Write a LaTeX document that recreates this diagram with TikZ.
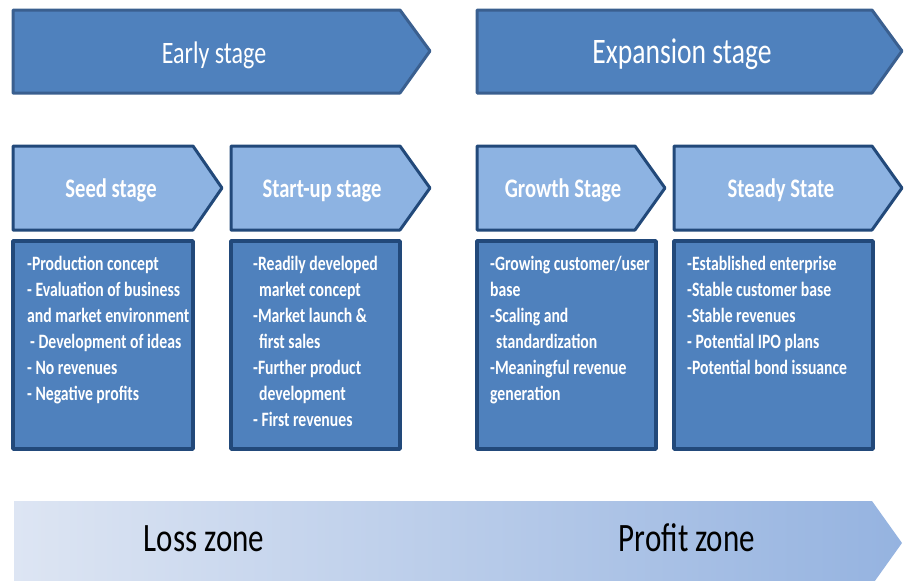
\documentclass[tikz,border=0pt]{standalone}
\usepackage{fontspec}
\usepackage{graphicx}
\setmainfont{Carlito}
\usetikzlibrary{positioning}

\definecolor{topfill}{HTML}{4F81BD}
\definecolor{topline}{HTML}{3A5F8F}
\definecolor{chevfill}{HTML}{8DB3E2}
\definecolor{chevline}{HTML}{22497A}
\definecolor{boxline}{HTML}{22497A}
\definecolor{zoneleft}{HTML}{DDE5F3}
\definecolor{zoneright}{HTML}{95B3E0}

% text in the reference is stretched upwards
\newcommand{\tall}[1]{\scalebox{1}[1.3]{#1}}
\newcommand{\bullets}[1]{\tall{\begin{tabular}{@{}l@{}}#1\end{tabular}}}

\begin{document}
\begin{tikzpicture}[x=1pt,y=-1pt,line join=round,
    phase/.style={draw=topline,fill=topfill,line width=3pt},
    stagebox/.style={draw=chevline,fill=chevfill,line width=3pt},
    infobox/.style={draw=boxline,fill=topfill,line width=3.5pt},
    phasetext/.style={anchor=base,text=white,inner sep=0pt,font=\fontsize{27.6}{30}\selectfont},
    stagetext/.style={anchor=base,text=white,inner sep=0pt,font=\fontsize{20.6}{24}\selectfont\bfseries},
    infotext/.style={anchor=north west,text=white,inner sep=0pt,font=\fontsize{15.7}{20}\selectfont\bfseries},
    zonetext/.style={anchor=base,text=black,inner sep=0pt,font=\fontsize{31}{34}\selectfont}]

\useasboundingbox (0,0) rectangle (906,581);

% phases
\draw[phase] (13,10) -- (400,10) -- (430,51) -- (400,93) -- (13,93) -- cycle;
\draw[phase] (477,10) -- (872,10) -- (902,51) -- (872,93) -- (477,93) -- cycle;
\node[phasetext,font=\fontsize{24}{28}\selectfont] (early) at (214,63) {\tall{Early stage}};
\node[phasetext] (expansion) at (682,63) {\tall{Expansion stage}};

% stages
\draw[stagebox] (13,146) -- (193,146) -- (222,188) -- (193,230) -- (13,230) -- cycle;
\draw[stagebox] (231,146) -- (400,146) -- (430,188) -- (400,230) -- (231,230) -- cycle;
\draw[stagebox] (477,146) -- (635,146) -- (665,188) -- (635,230) -- (477,230) -- cycle;
\draw[stagebox] (674,146) -- (872,146) -- (902,188) -- (872,230) -- (674,230) -- cycle;
\node[stagetext] (seed) at (111,197) {\tall{Seed stage}};
\node[stagetext] (startup) at (322,197) {\tall{Start-up stage}};
\node[stagetext] (growth) at (563,197) {\tall{Growth Stage}};
\node[stagetext] (steady) at (781,197) {\tall{Steady State}};

% descriptions
\draw[infobox] (13,241) rectangle (193,449);
\draw[infobox] (231,241) rectangle (400,449);
\draw[infobox] (477,241) rectangle (656,449);
\draw[infobox] (674,241) rectangle (873,449);

\node[infotext] (seedinfo) at (27,252) {\bullets{
    -Production concept\\
    - Evaluation of business\\
    and market environment\\
    \hspace{3pt}- Development of ideas\\
    - No revenues\\
    - Negative profits}};
\node[infotext] (startupinfo) at (253,252) {\bullets{
    -Readily developed\\
    \hspace{6pt}market concept\\
    -Market launch \&\\
    \hspace{6pt}first sales\\
    -Further product\\
    \hspace{6pt}development\\
    - First revenues}};
\node[infotext] (growthinfo) at (490,252) {\bullets{
    -Growing customer/user\\
    base\\
    -Scaling and\\
    \hspace{6pt}standardization\\
    -Meaningful revenue\\
    generation}};
\node[infotext] (steadyinfo) at (687,252) {\bullets{
    -Established enterprise\\
    -Stable customer base\\
    -Stable revenues\\
    - Potential IPO plans\\
    -Potential bond issuance}};

% zones
\shade[left color=zoneleft,right color=zoneright]
    (14,501) -- (872,501) -- (902,543) -- (872,585) -- (14,585) -- cycle;
\node[zonetext] (loss) at (204,551) {\tall{Loss zone}};
\node[zonetext] (profit) at (687,551) {\tall{Profit zone}};

\end{tikzpicture}
\end{document}
